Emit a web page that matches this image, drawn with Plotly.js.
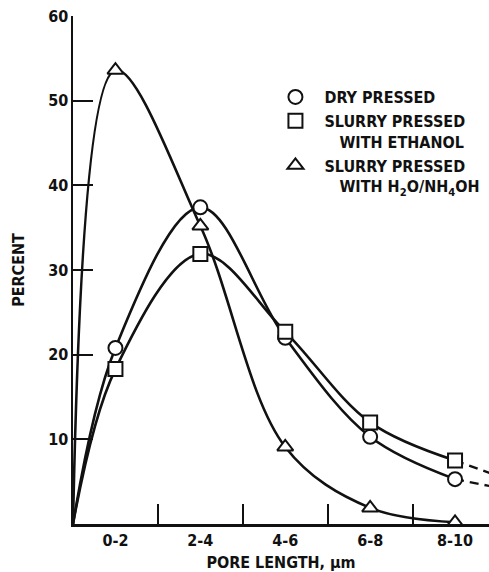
<!DOCTYPE html>
<html><head><meta charset="utf-8">
<script src="https://cdn.plot.ly/plotly-3.0.1.min.js"></script>
<style>html,body{margin:0;padding:0;background:#fff}#chart{width:489px;height:572px}</style>
</head><body><div id="chart"></div>
<script>
// ---- data ----
const categories = ["0-2", "2-4", "4-6", "6-8", "8-10"];
const dryPressed = [20.8, 37.4, 22.0, 10.3, 5.3];
const slurryEthanol = [18.3, 31.9, 22.7, 12.0, 7.5];
const slurryWater = [53.6, 35.2, 9.1, 1.9, 0.2];
const originX = 0, originY = 0;           // all curves start at the origin
const tailX = 10;                          // dashed extrapolation beyond 8-10
const dryTail = 4.3;
const ethanolTail = 5.7;
const yTickVals = [10, 20, 30, 40, 50, 60];
const legendNames = [
  "DRY PRESSED",
  "SLURRY PRESSED<br>\u00a0\u00a0\u00a0WITH ETHANOL",
  "SLURRY PRESSED<br>\u00a0\u00a0\u00a0WITH H<sub>2</sub>O/NH<sub>4</sub>OH"
];

// category midpoints (pore length in µm)
const mids = categories.map(c => { const p = c.split("-").map(Number); return (p[0] + p[1]) / 2; });

const FONT = {family: "DejaVu Sans Condensed, DejaVu Sans, sans-serif", size: 16, color: "#111", weight: "bold"};
const LINE = {color: "#111", width: 2.6, shape: "spline", smoothing: 1};

function curve(ys) {
  return {x: [originX].concat(mids), y: [originY].concat(ys), mode: "lines", line: LINE,
          showlegend: false, hoverinfo: "skip", cliponaxis: false};
}
function tail(ys, t) {
  return {x: [mids[mids.length - 1], tailX], y: [ys[ys.length - 1], t], mode: "lines",
          line: {color: "#111", width: 2.4, dash: "9px,6px"}, showlegend: false, hoverinfo: "skip"};
}
function pts(ys, sym, name) {
  return {x: mids, y: ys, mode: "markers", name: name, cliponaxis: false,
          marker: {symbol: sym, size: 14, color: "#fff", line: {color: "#111", width: 2}}};
}

const data = [
  curve(dryPressed), curve(slurryEthanol), curve(slurryWater),
  tail(dryPressed, dryTail), tail(slurryEthanol, ethanolTail),
  pts(dryPressed, "circle", legendNames[0]),
  pts(slurryEthanol, "square", legendNames[1]),
  pts(slurryWater, "triangle-up", legendNames[2])
];

const layout = {
  width: 489, height: 572,
  margin: {l: 73, r: 0, t: 16, b: 48},
  paper_bgcolor: "#fff", plot_bgcolor: "#fff",
  font: FONT,
  showlegend: true,
  legend: {x: 0.465, y: 0.874, xanchor: "left", yanchor: "top", valign: "top", itemwidth: 48,
           font: {family: FONT.family, size: 16, color: "#111", weight: "bold"},
           bgcolor: "rgba(0,0,0,0)", traceorder: "normal"},
  xaxis: {
    range: [0, 9.8], showgrid: false, zeroline: false,
    showline: true, linecolor: "#111", linewidth: 2.5,
    tickmode: "array", tickvals: mids, ticktext: categories, ticks: "",
    minor: {dtick: 2, tick0: 0, ticks: "inside", ticklen: 20, tickwidth: 2, tickcolor: "#111", showgrid: false},
    tickfont: FONT,
    title: {text: "PORE LENGTH, \u03bcm", font: FONT, standoff: 10}
  },
  yaxis: {
    range: [0, 60], showgrid: false, zeroline: false,
    showline: true, linecolor: "#111", linewidth: 2.5,
    tickmode: "array", tickvals: yTickVals, ticks: "inside", ticklen: 20, tickwidth: 2, tickcolor: "#111",
    ticklabelstandoff: -1,
    tickfont: FONT,
    title: {text: "PERCENT", font: FONT, standoff: 20}
  }
};

Plotly.newPlot("chart", data, layout, {displayModeBar: false, staticPlot: true});
</script></body></html>
